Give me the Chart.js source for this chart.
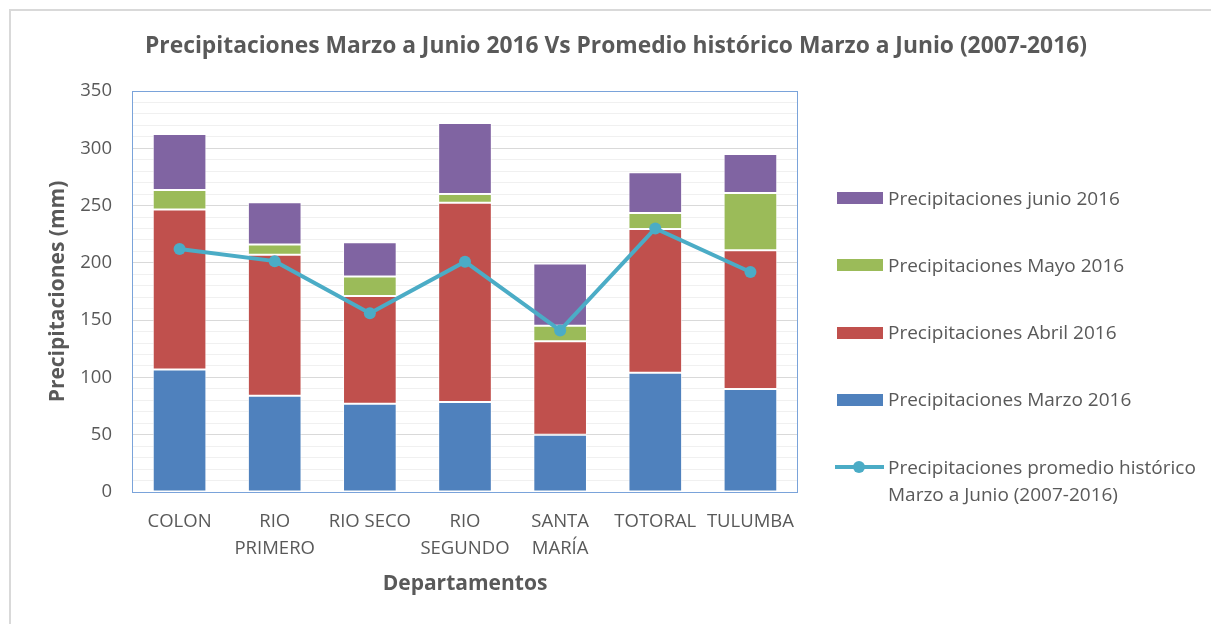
<!DOCTYPE html>
<html>
<head>
<meta charset="utf-8">
<script src="https://cdn.jsdelivr.net/npm/chart.js@4.4.0/dist/chart.umd.min.js"></script>
<style>
  body { margin: 0; background: #fff; }
  #wrap { position: relative; width: 1211px; height: 624px; overflow: hidden; font-family: 'Open Sans', sans-serif; color: #595959; }
  #frame { position: absolute; left: 9px; top: 9px; right: -10px; bottom: -10px; border-left: 2px solid #d9d9d9; border-top: 2px solid #d9d9d9; }
  canvas { position: absolute; left: 0; top: 0; }
  #title { position: absolute; left: 0; width: 1232px; top: 30px; text-align: center; font-weight: bold; font-size: 22.8px; line-height: 30px; }
  .lg { position: absolute; white-space: pre; font-size: 19px; line-height: 27px; }
  .sw { position: absolute; }
</style>
</head>
<body>
<div id="wrap">
  <div id="frame"></div>
  <canvas id="chart" width="1211" height="624"></canvas>
  <div id="title">Precipitaciones Marzo a Junio 2016 Vs Promedio histórico Marzo a Junio (2007-2016)</div>
  <div id="legend"></div>
</div>
<script>
const departamentos = [['COLON'], ['RIO', 'PRIMERO'], ['RIO SECO'], ['RIO', 'SEGUNDO'], ['SANTA', 'MARÍA'], ['TOTORAL'], ['TULUMBA']];
const marzo = [107, 84, 77, 78.5, 50, 104, 90];
const abril = [139.5, 123, 94, 174, 81.5, 125.5, 121];
const mayo = [17, 9, 17, 7.5, 13.5, 14, 50];
const junio = [49, 37, 30, 62, 54.5, 35.5, 34];
const promedio = [212, 201.5, 156, 201, 141, 230, 192];

const yTicks = [0, 50, 100, 150, 200, 250, 300, 350];

const plotBorder = {
  id: 'plotBorder',
  afterDraw(c) {
    const a = c.chartArea;
    const ctx = c.ctx;
    ctx.save();
    ctx.strokeStyle = '#7aa3da';
    ctx.lineWidth = 1;
    ctx.strokeRect(a.left + 0.5, a.top + 0.5, a.right - a.left - 1, a.bottom - a.top);
    ctx.restore();
  }
};

const barStyle = { borderColor: 'rgba(255,255,255,0.7)', borderWidth: 1, borderSkipped: false, order: 1, stack: 'meses' };

const chart = new Chart(document.getElementById('chart'), {
  type: 'bar',
  data: {
    labels: departamentos,
    datasets: [
      { label: 'Precipitaciones Marzo 2016', data: marzo, backgroundColor: '#4f81bd', ...barStyle },
      { label: 'Precipitaciones Abril 2016', data: abril, backgroundColor: '#c0504d', ...barStyle },
      { label: 'Precipitaciones Mayo 2016', data: mayo, backgroundColor: '#9bbb59', ...barStyle },
      { label: 'Precipitaciones junio 2016', data: junio, backgroundColor: '#8064a2', ...barStyle },
      {
        type: 'line',
        label: 'Precipitaciones promedio histórico\nMarzo a Junio (2007-2016)',
        data: promedio,
        stack: 'promedio',
        order: 0,
        borderColor: '#4bacc6',
        backgroundColor: '#4bacc6',
        borderWidth: 4,
        pointRadius: 6,
        pointBorderWidth: 0,
        pointBackgroundColor: '#4bacc6'
      }
    ]
  },
  options: {
    responsive: false,
    animation: false,
    layout: { padding: { left: 0, right: 413, top: 91, bottom: 0 } },
    plugins: { legend: { display: false }, tooltip: { enabled: false } },
    datasets: { bar: { categoryPercentage: 0.8, barPercentage: 0.705 } },
    scales: {
      x: {
        stacked: true,
        grid: { display: false },
        border: { display: false },
        ticks: { color: '#595959', font: { family: 'Open Sans', size: 18.5, lineHeight: 1.46 }, padding: 8, maxRotation: 0, autoSkip: false },
        title: { display: true, text: 'Departamentos', color: '#595959', font: { family: 'Open Sans', size: 21, weight: 'bold' }, padding: { top: 0, bottom: 27 } },
        afterFit(s) { s.height = 132; }
      },
      y: {
        stacked: true,
        min: 0,
        max: 350,
        grid: {
          drawTicks: false,
          color: ctx => yTicks.includes(ctx.tick.value) ? '#d9d9d9' : '#f0f0f0'
        },
        border: { display: false },
        ticks: {
          stepSize: 10,
          autoSkip: false,
          padding: 20,
          color: '#595959',
          font: { family: 'Open Sans', size: 18.5 },
          callback: v => yTicks.includes(v) ? String(v) : ''
        },
        title: { display: true, text: 'Precipitaciones (mm)', color: '#595959', font: { family: 'Open Sans', size: 21, weight: 'bold' }, padding: { top: 45, bottom: 0 } },
        afterFit(s) { s.width = 132; }
      }
    }
  },
  plugins: [plotBorder]
});

// legend on the right, junio first like the original
const legend = document.getElementById('legend');
[3, 2, 1, 0, 4].forEach((di, i) => {
  const ds = chart.data.datasets[di];
  const cy = 198 + i * 67.3;
  const sw = document.createElement('div');
  sw.className = 'sw';
  if (ds.type === 'line') {
    sw.style.cssText = `left:835px;top:${cy - 2}px;width:49px;height:4px;background:${ds.borderColor};`;
    const dot = document.createElement('div');
    dot.className = 'sw';
    dot.style.cssText = `left:853px;top:${cy - 6}px;width:12px;height:12px;border-radius:50%;background:${ds.borderColor};`;
    legend.appendChild(dot);
  } else {
    sw.style.cssText = `left:837px;top:${cy - 6}px;width:46px;height:12px;background:${ds.backgroundColor};`;
  }
  legend.appendChild(sw);
  const t = document.createElement('div');
  t.className = 'lg';
  t.style.left = '888px';
  t.style.top = (cy - 13.5) + 'px';
  t.textContent = ds.label;
  legend.appendChild(t);
});
</script>
</body>
</html>
